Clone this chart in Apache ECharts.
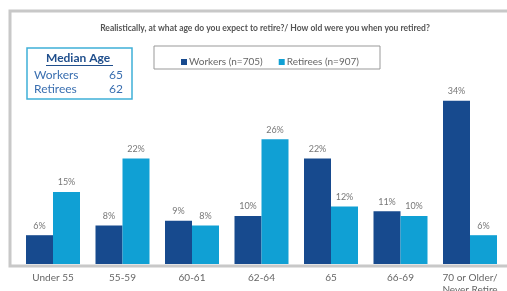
<!DOCTYPE html>
<html>
<head>
<meta charset="utf-8">
<script src="https://cdn.jsdelivr.net/npm/echarts@6/dist/echarts.min.js"></script>
<style>
  html, body { margin: 0; padding: 0; background: #fff; }
  #main { width: 507px; height: 291px; }
</style>
</head>
<body>
<div id="main"></div>
<script>
// retirement age chart
var categories = ['Under 55', '55-59', '60-61', '62-64', '65', '66-69', '70 or Older/\nNever Retire'];
var workers = [6, 8, 9, 10, 22, 11, 34];
var retirees = [15, 22, 8, 26, 12, 10, 6];
var seriesNames = ['Workers (n=705)', 'Retirees (n=907)'];
var medianRows = [['Workers', '65'], ['Retirees', '62']];

var chart = echarts.init(document.getElementById('main'));

var labelStyle = {
    show: true,
    position: 'top',
    distance: 5,
    color: '#777',
    fontSize: 9,
    fontFamily: 'Lato',
    formatter: '{c}%'
};

var option = {
    animation: false,
    textStyle: {fontFamily: 'Lato'},
    title: {
        text: 'Realistically, at what age do you expect to retire?/ How old were you when you retired?',
        left: 260,
        top: 19,
        textAlign: 'center',
        textStyle: {fontSize: 8.5, fontWeight: 'bold', color: '#555', fontFamily: 'Lato'}
    },
    legend: {
        data: seriesNames,
        left: 176,
        top: 52,
        itemWidth: 6,
        itemHeight: 6,
        itemGap: 16,
        icon: 'rect',
        textStyle: {fontSize: 10, color: '#666', fontFamily: 'Lato', padding: [0, 0, 0, -3]}
    },
    graphic: [
        {type: 'rect', shape: {x: 10, y: 11, width: 520, height: 255},
         style: {fill: 'none', stroke: '#c8c8c8', lineWidth: 3}, z: -1},
        {type: 'rect', shape: {x: 154, y: 46, width: 226, height: 23},
         style: {fill: 'none', stroke: '#999', lineWidth: 1}},
        {type: 'rect', shape: {x: 27, y: 48, width: 105, height: 51},
         style: {fill: '#fff', stroke: '#3fb0d8', lineWidth: 1.5}},
        {type: 'text', left: 46, top: 52,
         style: {text: 'Median Age', fontSize: 12, fontWeight: 'bold', fill: '#1f4e8c', fontFamily: 'Lato'}},
        {type: 'line', shape: {x1: 46, y1: 65.5, x2: 113, y2: 65.5},
         style: {stroke: '#1f4e8c', lineWidth: 1}},
        {type: 'text', left: 34, top: 69,
         style: {text: medianRows[0][0], fontSize: 12, fill: '#3a6fb0', fontFamily: 'Lato'}},
        {type: 'text', left: 109, top: 69,
         style: {text: medianRows[0][1], fontSize: 12, fill: '#3a6fb0', fontFamily: 'Lato'}},
        {type: 'text', left: 34, top: 83,
         style: {text: medianRows[1][0], fontSize: 12, fill: '#3a6fb0', fontFamily: 'Lato'}},
        {type: 'text', left: 109, top: 83,
         style: {text: medianRows[1][1], fontSize: 12, fill: '#3a6fb0', fontFamily: 'Lato'}}
    ],
    grid: {left: 18.25, right: 2.25, top: 24, bottom: 27, containLabel: false, outerBoundsMode: 'none'},
    xAxis: {
        type: 'category',
        data: categories,
        axisLine: {show: false},
        axisTick: {show: false},
        axisLabel: {interval: 0, color: '#666', fontSize: 10, margin: 8, lineHeight: 12, fontFamily: 'Lato'}
    },
    yAxis: {
        type: 'value',
        min: 0,
        max: 50,
        show: false,
        splitLine: {show: false}
    },
    series: [
        {
            name: seriesNames[0],
            type: 'bar',
            data: workers,
            barWidth: 27,
            barGap: '0%',
            itemStyle: {color: '#174a8e'},
            label: labelStyle
        },
        {
            name: seriesNames[1],
            type: 'bar',
            data: retirees,
            barWidth: 27,
            itemStyle: {color: '#10a0d4'},
            label: labelStyle
        }
    ]
};

chart.setOption(option);
</script>
</body>
</html>
